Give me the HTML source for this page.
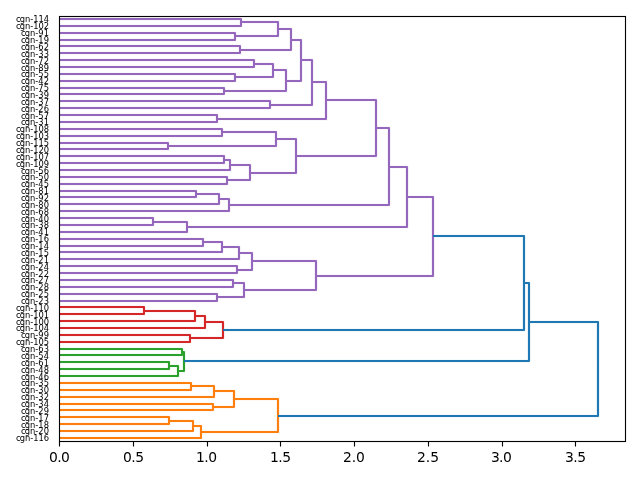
<!DOCTYPE html>
<html lang="en"><head><meta charset="utf-8"><title>Dendrogram</title>
<style>
html,body{margin:0;padding:0;background:#fff;width:640px;height:480px;overflow:hidden}
svg{display:block;will-change:transform}
.lk{fill:none;stroke-width:2.083;stroke-linejoin:round;stroke-linecap:butt}
.lf{font:8.333px "DejaVu Sans","Liberation Sans",sans-serif;letter-spacing:0px;text-anchor:end;fill:#000}
.tk{font:13.889px "DejaVu Sans","Liberation Sans",sans-serif;letter-spacing:0px;text-anchor:middle;fill:#000}
</style></head><body>
<svg width="640" height="480" viewBox="0 0 640 480">
<rect width="640" height="480" fill="#fff"/>
<path class="lk" stroke="#ff7f0e" stroke-opacity="0.046" style="stroke-width:4" d="M59 383H191V390H59M191 386H214V397H59M59 404H213V410H59M214 391H234V407H213M59 417H169V424H59M169 421H193V431H59M193 426H201V438H59M234 399H278V432H201"/>
<path class="lk" stroke="#ff7f0e" d="M59 383H191V390H59M191 386H214V397H59M59 404H213V410H59M214 391H234V407H213M59 417H169V424H59M169 421H193V431H59M193 426H201V438H59M234 399H278V432H201"/>
<path class="lk" stroke="#2ca02c" stroke-opacity="0.046" style="stroke-width:4" d="M59 349H182V355H59M59 362H169V369H59M169 366H178V376H59M182 352H184V371H178"/>
<path class="lk" stroke="#2ca02c" d="M59 349H182V355H59M59 362H169V369H59M169 366H178V376H59M182 352H184V371H178"/>
<path class="lk" stroke="#d62728" stroke-opacity="0.046" style="stroke-width:4" d="M59 307H144V314H59M144 311H195V321H59M195 316H205V328H59M59 335H190V342H59M205 322H223V338H190"/>
<path class="lk" stroke="#d62728" d="M59 307H144V314H59M144 311H195V321H59M195 316H205V328H59M59 335H190V342H59M205 322H223V338H190"/>
<path class="lk" stroke="#9467bd" stroke-opacity="0.046" style="stroke-width:4" d="M59 19H241V26H59M59 33H235V40H59M241 22H278V36H235M59 46H240V53H59M278 29H291V50H240M59 60H254V67H59M59 74H235V81H59M254 64H273V77H235M59 88H224V94H59M273 70H286V91H224M291 40H301V81H286M59 101H270V108H59M301 60H312V105H270M59 115H217V122H59M312 82H326V119H217M59 129H222V136H59M59 143H168V149H59M222 132H276V146H168M59 156H224V163H59M224 160H230V170H59M59 177H227V184H59M230 165H250V180H227M276 139H296V173H250M326 100H376V156H296M59 191H196V197H59M196 194H219V204H59M219 199H229V211H59M376 128H389V205H229M59 218H153V225H59M153 222H187V232H59M389 167H407V227H187M59 239H203V246H59M203 242H222V252H59M222 247H239V259H59M59 266H237V273H59M239 253H252V270H237M59 280H233V287H59M59 294H217V301H59M233 283H244V297H217M252 261H316V290H244M407 197H433V276H316"/>
<path class="lk" stroke="#9467bd" d="M59 19H241V26H59M59 33H235V40H59M241 22H278V36H235M59 46H240V53H59M278 29H291V50H240M59 60H254V67H59M59 74H235V81H59M254 64H273V77H235M59 88H224V94H59M273 70H286V91H224M291 40H301V81H286M59 101H270V108H59M301 60H312V105H270M59 115H217V122H59M312 82H326V119H217M59 129H222V136H59M59 143H168V149H59M222 132H276V146H168M59 156H224V163H59M224 160H230V170H59M59 177H227V184H59M230 165H250V180H227M276 139H296V173H250M326 100H376V156H296M59 191H196V197H59M196 194H219V204H59M219 199H229V211H59M376 128H389V205H229M59 218H153V225H59M153 222H187V232H59M389 167H407V227H187M59 239H203V246H59M203 242H222V252H59M222 247H239V259H59M59 266H237V273H59M239 253H252V270H237M59 280H233V287H59M59 294H217V301H59M233 283H244V297H217M252 261H316V290H244M407 197H433V276H316"/>
<path class="lk" stroke="#1f77b4" stroke-opacity="0.046" style="stroke-width:4" d="M433 236H524V330H223M524 283H529V361H184M529 322H598V416H278"/>
<path class="lk" stroke="#1f77b4" d="M433 236H524V330H223M524 283H529V361H184M529 322H598V416H278"/>
<path d="M59.5 441V446.5M133.5 441V446.5M207.5 441V446.5M280.5 441V446.5M354.5 441V446.5M428.5 441V446.5M502.5 441V446.5M575.5 441V446.5" stroke="#000" stroke-width="1.111" fill="none"/>
<rect x="59.5" y="16.5" width="566" height="425" fill="none" stroke="#000" stroke-width="1.111"/>
<g style="filter:grayscale(1)">
<text class="tk" style="letter-spacing:-0.5px" x="59.17" y="461.55">0.0</text>
<text class="tk" style="letter-spacing:-0.6px" x="133.25" y="461.55">0.5</text>
<text class="tk" style="letter-spacing:-0.5px" x="206.23" y="461.55">1.0</text>
<text class="tk" style="letter-spacing:-0.5px" x="280.3" y="461.55">1.5</text>
<text class="tk" style="letter-spacing:-0.1px" x="353.88" y="461.55">2.0</text>
<text class="tk" style="letter-spacing:0px" x="428.06" y="461.55">2.5</text>
<text class="tk" style="letter-spacing:-0.6px" x="501.04" y="461.55">3.0</text>
<text class="tk" style="letter-spacing:-0.5px" x="575.21" y="461.55">3.5</text>
<text class="lf" style="letter-spacing:-0.03px" dx="0.75 -0.75" x="48.35" y="22.47">cgn-114</text>
<text class="lf" style="letter-spacing:-0.03px" dx="0.75 -0.75" x="48.35" y="29.34">cgn-102</text>
<text class="lf" dx="0.75 -0.75" x="48.2" y="36.2">cgn-91</text>
<text class="lf" dx="0.75 -0.75" x="48.2" y="43.07">cgn-19</text>
<text class="lf" dx="0.75 -0.75" x="48.2" y="49.94">cgn-62</text>
<text class="lf" dx="0.75 -0.75" x="48.2" y="56.8">cgn-33</text>
<text class="lf" dx="0.75 -0.75" x="48.2" y="63.67">cgn-72</text>
<text class="lf" dx="0.75 -0.75" x="48.2" y="70.54">cgn-89</text>
<text class="lf" dx="0.75 -0.75" x="48.2" y="77.41">cgn-55</text>
<text class="lf" dx="0.75 -0.75" x="48.2" y="84.27">cgn-42</text>
<text class="lf" dx="0.75 -0.75" x="48.2" y="91.14">cgn-75</text>
<text class="lf" dx="0.75 -0.75" x="48.2" y="98.01">cgn-39</text>
<text class="lf" dx="0.75 -0.75" x="48.2" y="104.87">cgn-37</text>
<text class="lf" dx="0.75 -0.75" x="48.2" y="111.74">cgn-26</text>
<text class="lf" dx="0.75 -0.75" x="48.2" y="118.61">cgn-57</text>
<text class="lf" dx="0.75 -0.75" x="48.2" y="125.47">cgn-31</text>
<text class="lf" style="letter-spacing:-0.03px" dx="0.75 -0.75" x="48.35" y="132.34">cgn-108</text>
<text class="lf" style="letter-spacing:-0.03px" dx="0.75 -0.75" x="48.35" y="139.21">cgn-103</text>
<text class="lf" style="letter-spacing:-0.03px" dx="0.75 -0.75" x="48.35" y="146.08">cgn-115</text>
<text class="lf" style="letter-spacing:-0.03px" dx="0.75 -0.75" x="48.35" y="152.94">cgn-120</text>
<text class="lf" style="letter-spacing:-0.03px" dx="0.75 -0.75" x="48.35" y="159.81">cgn-107</text>
<text class="lf" style="letter-spacing:-0.03px" dx="0.75 -0.75" x="48.35" y="166.68">cgn-109</text>
<text class="lf" dx="0.75 -0.75" x="48.2" y="173.54">cgn-56</text>
<text class="lf" dx="0.75 -0.75" x="48.2" y="180.41">cgn-50</text>
<text class="lf" dx="0.75 -0.75" x="48.2" y="187.28">cgn-45</text>
<text class="lf" dx="0.75 -0.75" x="48.2" y="194.15">cgn-81</text>
<text class="lf" dx="0.75 -0.75" x="48.2" y="201.01">cgn-92</text>
<text class="lf" dx="0.75 -0.75" x="48.2" y="207.88">cgn-80</text>
<text class="lf" dx="0.75 -0.75" x="48.2" y="214.75">cgn-68</text>
<text class="lf" dx="0.75 -0.75" x="48.2" y="221.61">cgn-40</text>
<text class="lf" dx="0.75 -0.75" x="48.2" y="228.48">cgn-38</text>
<text class="lf" dx="0.75 -0.75" x="48.2" y="235.35">cgn-41</text>
<text class="lf" dx="0.75 -0.75" x="48.2" y="242.22">cgn-16</text>
<text class="lf" dx="0.75 -0.75" x="48.2" y="249.08">cgn-14</text>
<text class="lf" dx="0.75 -0.75" x="48.2" y="255.95">cgn-15</text>
<text class="lf" dx="0.75 -0.75" x="48.2" y="262.82">cgn-21</text>
<text class="lf" dx="0.75 -0.75" x="48.2" y="269.68">cgn-24</text>
<text class="lf" dx="0.75 -0.75" x="48.2" y="276.55">cgn-22</text>
<text class="lf" dx="0.75 -0.75" x="48.2" y="283.42">cgn-27</text>
<text class="lf" dx="0.75 -0.75" x="48.2" y="290.28">cgn-28</text>
<text class="lf" dx="0.75 -0.75" x="48.2" y="297.15">cgn-25</text>
<text class="lf" dx="0.75 -0.75" x="48.2" y="304.02">cgn-23</text>
<text class="lf" style="letter-spacing:-0.03px" dx="0.75 -0.75" x="48.35" y="310.89">cgn-110</text>
<text class="lf" style="letter-spacing:-0.03px" dx="0.75 -0.75" x="48.35" y="317.75">cgn-101</text>
<text class="lf" style="letter-spacing:-0.03px" dx="0.75 -0.75" x="48.35" y="324.62">cgn-100</text>
<text class="lf" style="letter-spacing:-0.03px" dx="0.75 -0.75" x="48.35" y="331.49">cgn-104</text>
<text class="lf" dx="0.75 -0.75" x="48.2" y="338.35">cgn-99</text>
<text class="lf" style="letter-spacing:-0.03px" dx="0.75 -0.75" x="48.35" y="345.22">cgn-105</text>
<text class="lf" dx="0.75 -0.75" x="48.2" y="352.09">cgn-63</text>
<text class="lf" dx="0.75 -0.75" x="48.2" y="358.96">cgn-54</text>
<text class="lf" dx="0.75 -0.75" x="48.2" y="365.82">cgn-61</text>
<text class="lf" dx="0.75 -0.75" x="48.2" y="372.69">cgn-48</text>
<text class="lf" dx="0.75 -0.75" x="48.2" y="379.56">cgn-46</text>
<text class="lf" dx="0.75 -0.75" x="48.2" y="386.42">cgn-35</text>
<text class="lf" dx="0.75 -0.75" x="48.2" y="393.29">cgn-30</text>
<text class="lf" dx="0.75 -0.75" x="48.2" y="400.16">cgn-32</text>
<text class="lf" dx="0.75 -0.75" x="48.2" y="407.02">cgn-34</text>
<text class="lf" dx="0.75 -0.75" x="48.2" y="413.89">cgn-29</text>
<text class="lf" dx="0.75 -0.75" x="48.2" y="420.76">cgn-17</text>
<text class="lf" dx="0.75 -0.75" x="48.2" y="427.63">cgn-18</text>
<text class="lf" dx="0.75 -0.75" x="48.2" y="434.49">cgn-20</text>
<text class="lf" style="letter-spacing:-0.03px" dx="0.75 -0.75" x="48.35" y="441.36">cgn-116</text>
</g>
</svg>
</body></html>
